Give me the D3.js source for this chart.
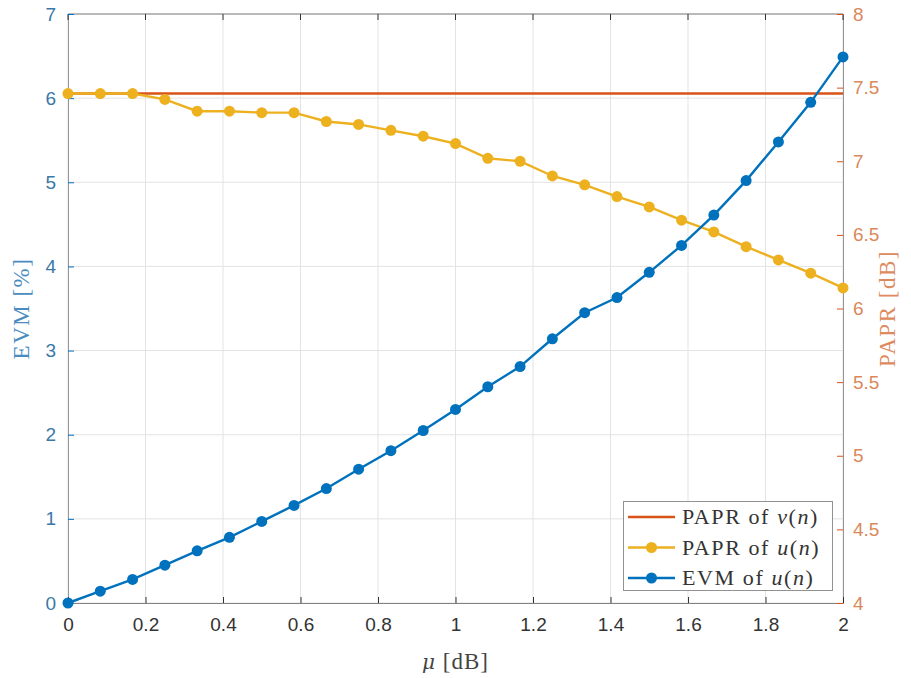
<!DOCTYPE html>
<html><head><meta charset="utf-8">
<script src="https://cdn.jsdelivr.net/npm/d3@7"></script>
<style>body{margin:0;background:#fff}svg{display:block}</style>
</head><body>
<svg id="chart" width="911" height="678"></svg>
<script>
const mu = [0,1/12,2/12,3/12,4/12,5/12,6/12,7/12,8/12,9/12,10/12,11/12,1,13/12,14/12,15/12,16/12,17/12,18/12,19/12,20/12,21/12,22/12,23/12,2];
const evmU = [0.00,0.14,0.28,0.45,0.62,0.78,0.97,1.16,1.36,1.59,1.81,2.05,2.30,2.57,2.81,3.14,3.45,3.63,3.93,4.25,4.61,5.02,5.48,5.95,6.49];
const paprU = [7.46,7.46,7.46,7.42,7.34,7.34,7.33,7.33,7.27,7.25,7.21,7.17,7.12,7.02,7.00,6.90,6.84,6.76,6.69,6.60,6.52,6.42,6.33,6.24,6.14];
const paprV = mu.map(() => 7.46);
const xTicks = [0,0.2,0.4,0.6,0.8,1,1.2,1.4,1.6,1.8,2];
const yLeftTicks = [0,1,2,3,4,5,6,7];
const yRightTicks = [4,4.5,5,5.5,6,6.5,7,7.5,8];

const C_BLUE = "#0072BD", C_RED = "#D95319", C_YEL = "#EDB120";
const L = 68, R = 843, T = 14, B = 603;
const svg = d3.select("#chart");
const x = d3.scaleLinear().domain([0,2]).range([L,R]);
const yL = d3.scaleLinear().domain([0,7]).range([B,T]);
const yR = d3.scaleLinear().domain([4,8]).range([B,T]);
const fmt = d3.format("~g");

// grid
const g = svg.append("g");
g.selectAll(".gx").data(xTicks).enter().append("line")
  .attr("x1", d=>x(d)).attr("x2", d=>x(d)).attr("y1", T).attr("y2", B)
  .attr("stroke", "#e3e3e3").attr("stroke-width", 1);
g.selectAll(".gy").data(yLeftTicks).enter().append("line")
  .attr("x1", L).attr("x2", R).attr("y1", d=>yL(d)).attr("y2", d=>yL(d))
  .attr("stroke", "#e3e3e3").attr("stroke-width", 1);

// box top
svg.append("line").attr("x1", L).attr("x2", R).attr("y1", T).attr("y2", T).attr("stroke", "#262626").attr("stroke-opacity",0.55);

const tickFont = "'Liberation Sans', Arial, sans-serif";
// axes
const xAxis = d3.axisBottom(x).tickValues(xTicks).tickSizeInner(-6).tickSizeOuter(0).tickPadding(15).tickFormat(fmt);
const ax = svg.append("g").attr("transform", `translate(0,${B})`).call(xAxis);
ax.selectAll("text").attr("font-family", tickFont).attr("font-size", 19).attr("fill", "#333");
ax.selectAll("line").attr("stroke", "#333");
ax.select(".domain").attr("stroke", "#262626").attr("stroke-opacity",0.55);
// top ticks
svg.selectAll(".tt").data(xTicks).enter().append("line")
  .attr("x1", d=>x(d)).attr("x2", d=>x(d)).attr("y1", T).attr("y2", T+6).attr("stroke", "#333");

const yAxL = d3.axisLeft(yL).tickValues(yLeftTicks).tickSizeInner(-6).tickSizeOuter(0).tickPadding(12).tickFormat(fmt);
const al = svg.append("g").attr("transform", `translate(${L},0)`).call(yAxL);
al.selectAll("text").attr("font-family", tickFont).attr("font-size", 19).attr("fill", "#3a78a8");
al.selectAll("line").attr("stroke", C_BLUE);
al.select(".domain").attr("stroke", "#262626").attr("stroke-opacity",0.45);

const yAxR = d3.axisRight(yR).tickValues(yRightTicks).tickSizeInner(-6).tickSizeOuter(0).tickPadding(10).tickFormat(fmt);
const ar = svg.append("g").attr("transform", `translate(${R},0)`).call(yAxR);
ar.selectAll("text").attr("font-family", tickFont).attr("font-size", 19).attr("fill", "#d9895a");
ar.selectAll("line").attr("stroke", C_RED);
ar.select(".domain").attr("stroke", "#262626").attr("stroke-opacity",0.45);

// series
const lineL = d3.line().x((d,i)=>x(mu[i])).y(d=>yL(d));
const lineR = d3.line().x((d,i)=>x(mu[i])).y(d=>yR(d));

svg.append("path").datum(paprV).attr("d", lineR).attr("fill","none").attr("stroke", C_RED).attr("stroke-width", 2.4);
svg.append("path").datum(paprU).attr("d", lineR).attr("fill","none").attr("stroke", C_YEL).attr("stroke-width", 2.4);
svg.selectAll(".mu").data(paprU).enter().append("circle")
  .attr("cx",(d,i)=>x(mu[i])).attr("cy", d=>yR(d)).attr("r", 5.5).attr("fill", C_YEL);
svg.append("path").datum(evmU).attr("d", lineL).attr("fill","none").attr("stroke", C_BLUE).attr("stroke-width", 2.4);
svg.selectAll(".me").data(evmU).enter().append("circle")
  .attr("cx",(d,i)=>x(mu[i])).attr("cy", d=>yL(d)).attr("r", 5.5).attr("fill", C_BLUE);

// axis labels
const serif = "'Liberation Serif', 'DejaVu Serif', serif";
const xl = svg.append("text").attr("x", (L+R)/2).attr("y", 669).attr("text-anchor","middle")
  .attr("font-family", serif).attr("font-size", 23).attr("letter-spacing", 1).attr("fill", "#444");
xl.append("tspan").attr("font-style","italic").attr("font-family","'DejaVu Serif', serif").attr("font-size",20).text("μ");
xl.append("tspan").text(" [dB]");

svg.append("text").attr("transform", `translate(29,${(T+B)/2}) rotate(-90)`).attr("text-anchor","middle")
  .attr("font-family", serif).attr("font-size", 23).attr("letter-spacing", 1.5).attr("fill", "#4a8cc0").text("EVM [%]");
svg.append("text").attr("transform", `translate(895,${(T+B)/2}) rotate(-90)`).attr("text-anchor","middle")
  .attr("font-family", serif).attr("font-size", 23).attr("letter-spacing", 1.5).attr("fill", "#dc8a5e").text("PAPR [dB]");

// legend
const legItems = [
  {label:"PAPR of ", v:"v", color:C_RED, marker:false},
  {label:"PAPR of ", v:"u", color:C_YEL, marker:true},
  {label:"EVM of ", v:"u", color:C_BLUE, marker:true}
];
const lg = svg.append("g");
lg.append("rect").attr("x", 623.5).attr("y", 501.5).attr("width", 209).attr("height", 89)
  .attr("fill","#fff").attr("stroke","#262626").attr("stroke-opacity",0.5);
legItems.forEach((it,i) => {
  const yy = 517 + i*30.5;
  lg.append("line").attr("x1", 628).attr("x2", 675).attr("y1", yy).attr("y2", yy).attr("stroke", it.color).attr("stroke-width", 2.4);
  if (it.marker) lg.append("circle").attr("cx", 651.5).attr("cy", yy).attr("r", 5.5).attr("fill", it.color);
  const t = lg.append("text").attr("x", 682).attr("y", yy+7).attr("font-family", serif).attr("font-size", 22).attr("letter-spacing", 1.6).attr("fill","#333");
  t.append("tspan").text(it.label);
  t.append("tspan").attr("font-style","italic").text(it.v);
  t.append("tspan").text("(");
  t.append("tspan").attr("font-style","italic").text("n");
  t.append("tspan").text(")");
});
</script>
</body></html>
